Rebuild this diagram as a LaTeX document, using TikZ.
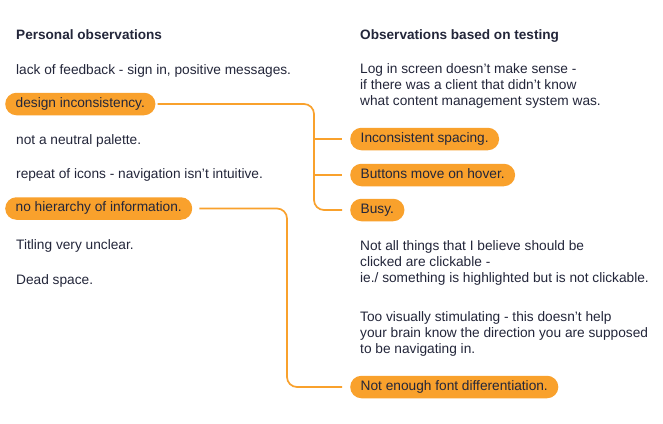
\documentclass[tikz,border=0pt]{standalone}
\usepackage{fontspec}
\setmainfont{Liberation Sans}
\definecolor{pillor}{HTML}{F9A12C}
\definecolor{ink}{HTML}{23263A}
\begin{document}
\begin{tikzpicture}[x=1pt,y=-1pt,
  every node/.style={inner sep=0pt, text=ink, font=\fontsize{13.7pt}{16pt}\selectfont},
  txt/.style={anchor=base west, align=left},
  head/.style={anchor=base west, font=\fontsize{13.6pt}{16pt}\selectfont\bfseries},
  pill/.style={anchor=west, fill=pillor, rounded corners=11.25pt, minimum height=22.5pt,
     inner xsep=10.5pt, text height=9.8pt, text depth=2.9pt},
  conn/.style={draw=pillor, line width=1.7pt, rounded corners=10pt}]
\useasboundingbox (0,0) rectangle (663,423);
\fill[white] (0,0) rectangle (663,423);
% left column
\node[head] (h1) at (16,39) {Personal observations};
\node[txt] (l1) at (16,74) {lack of feedback - sign in, positive messages.};
\node[pill] (design) at (5,104) {design inconsistency.};
\node[txt] (l3) at (16,144) {not a neutral palette.};
\node[txt] (l4) at (16,178.5) {repeat of icons - navigation isn’t intuitive.};
\node[pill] (hier) at (5,208.5) {no hierarchy of information.};
\node[txt] (l6) at (16,249.5) {Titling very unclear.};
\node[txt] (l7) at (16,284) {Dead space.};
% right column (multi-line nodes: base anchor is the last line's baseline)
\node[head] (h2) at (360,39) {Observations based on testing};
\node[txt] (r1) at (360,105.5) {Log in screen doesn’t make sense -\\if there was a client that didn’t know\\what content management system was.};
\node[pill] (incons) at (350,139) {Inconsistent spacing.};
\node[pill] (buttons) at (350,175) {Buttons move on hover.};
\node[pill] (busy) at (350,210) {Busy.};
\node[txt] (r5) at (360,282) {Not all things that I believe should be\\clicked are clickable -\\ie./ something is highlighted but is not clickable.};
\node[txt] (r6) at (360,353) {Too visually stimulating - this doesn’t help\\your brain know the direction you are supposed\\to be navigating in.};
\node[pill] (font) at (350,387) {Not enough font differentiation.};
% connectors
\draw[conn] ([xshift=2pt]design.east) -| ([xshift=-36pt]busy.west) -- ([xshift=-8pt]busy.west);
\draw[conn] ([xshift=-36pt]incons.west) -- ([xshift=-8pt]incons.west);
\draw[conn] ([xshift=-36pt]buttons.west) -- ([xshift=-8pt]buttons.west);
\draw[conn] ([xshift=7pt]hier.east) -| ([xshift=-63pt]font.west) -- ([xshift=-8pt]font.west);
\end{tikzpicture}
\end{document}
